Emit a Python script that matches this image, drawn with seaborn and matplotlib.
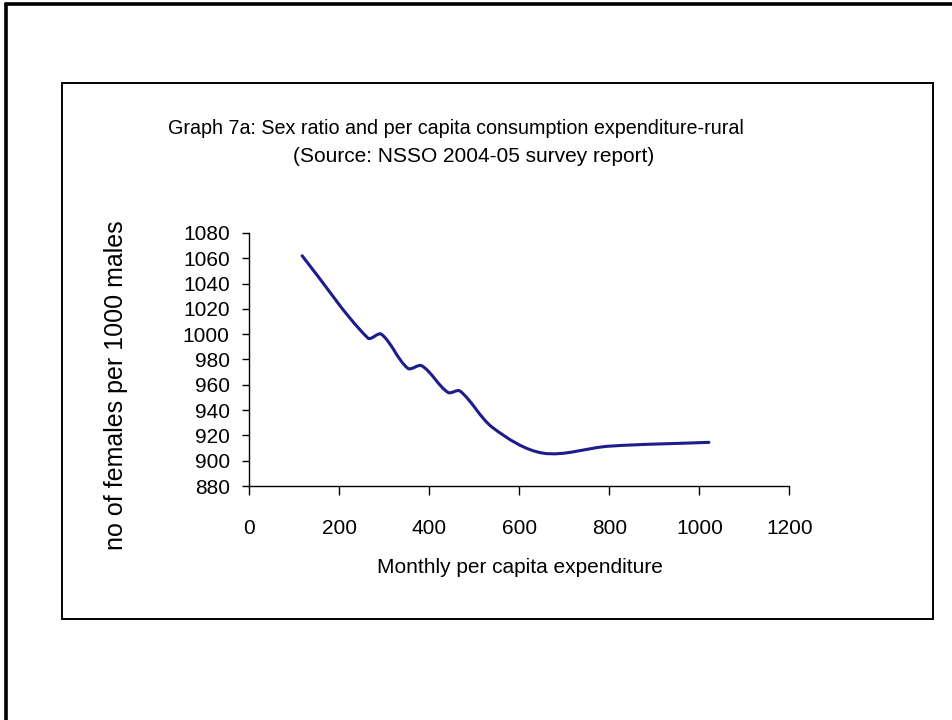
import numpy as np
import matplotlib
matplotlib.use("Agg")
import matplotlib.pyplot as plt
from matplotlib.path import Path
from matplotlib.patches import PathPatch, Rectangle
from matplotlib.lines import Line2D
import seaborn as sns

# data
mpce = [117, 263, 293, 352, 383, 441, 468, 541, 652, 800, 1021]
sex_ratio = [1062, 997, 1000, 973, 975, 954, 955, 926, 906, 911.5, 914.5]
x_ticks = [0, 200, 400, 600, 800, 1000, 1200]
y_ticks = list(range(880, 1081, 20))

title_1 = "Graph 7a: Sex ratio and per capita consumption expenditure-rural"
title_2 = "(Source: NSSO 2004-05 survey report)"
x_label = "Monthly per capita expenditure"
y_label = "no of females per 1000 males"

sns.set_style("white")
plt.rcParams["font.family"] = ["Liberation Sans", "DejaVu Sans"]
plt.rcParams["text.color"] = "black"
plt.rcParams["axes.labelcolor"] = "black"
plt.rcParams["xtick.color"] = "black"
plt.rcParams["ytick.color"] = "black"


def smooth_path(xs, ys, sx, sy):
    # smoothed line like the spreadsheet one: bezier segments through every point,
    # handle length scaled by the neighbouring segment lengths on screen
    pts = np.column_stack([xs, ys]).astype(float)
    scr = pts * [sx, sy]
    n = len(pts)

    def seg(a, b):
        return np.hypot(*(scr[b] - scr[a]))

    verts = [pts[0]]
    codes = [Path.MOVETO]
    for i in range(n - 1):
        i0, i3 = max(i - 1, 0), min(i + 2, n - 1)
        d01, d12, d23 = seg(i0, i), seg(i, i + 1), seg(i + 1, i3)
        c1 = pts[i] + (pts[i + 1] - pts[i0]) * d12 / (d01 + d12) / 3
        c2 = pts[i + 1] - (pts[i3] - pts[i]) * d12 / (d12 + d23) / 3
        verts += [c1, c2, pts[i + 1]]
        codes += [Path.CURVE4] * 3
    return Path(verts, codes)


fig = plt.figure(figsize=(9.53, 7.2), dpi=100)
ax = fig.add_axes([0.2618, 0.325, 0.5666, 0.3514])

ax.set_xlim(0, 1200)
ax.set_ylim(880, 1080)
ax.add_patch(PathPatch(smooth_path(mpce, sex_ratio, 540 / 1200, 253 / 200),
                       fill=False, edgecolor="#1c1c8a", lw=2.2, capstyle="round"))

ax.set_xticks(x_ticks)
ax.set_yticks(y_ticks)
ax.tick_params(axis="x", bottom=True, direction="out", length=6.5, width=1,
               labelsize=15, pad=17)
ax.tick_params(axis="y", left=True, direction="out", length=5, width=1,
               labelsize=15, pad=9.3)
sns.despine(ax=ax)
for s in ["left", "bottom"]:
    ax.spines[s].set_color("black")
    ax.spines[s].set_linewidth(1)

ax.set_xlabel(x_label, fontsize=15, labelpad=15)
ax.set_ylabel(y_label, fontsize=18)
ax.yaxis.set_label_coords(-0.225, 0.40)

fig.text(168 / 953, 1 - 128 / 720, title_1, ha="left", va="center", fontsize=14.2)
fig.text(293 / 953, 1 - 156 / 720, title_2, ha="left", va="center", fontsize=15)

# chart frame and slide border
fig.patches.append(Rectangle((62 / 953, 1 - 619 / 720), 871 / 953, 536 / 720,
                             transform=fig.transFigure, fill=False,
                             edgecolor="black", lw=1.4))
fig.lines.append(Line2D([6 / 953, 1], [1 - 4 / 720, 1 - 4 / 720],
                        transform=fig.transFigure, color="black", lw=2.6))
fig.lines.append(Line2D([6 / 953, 6 / 953], [0, 1 - 4 / 720],
                        transform=fig.transFigure, color="black", lw=2.6))

fig.savefig("out.png", dpi=100)
